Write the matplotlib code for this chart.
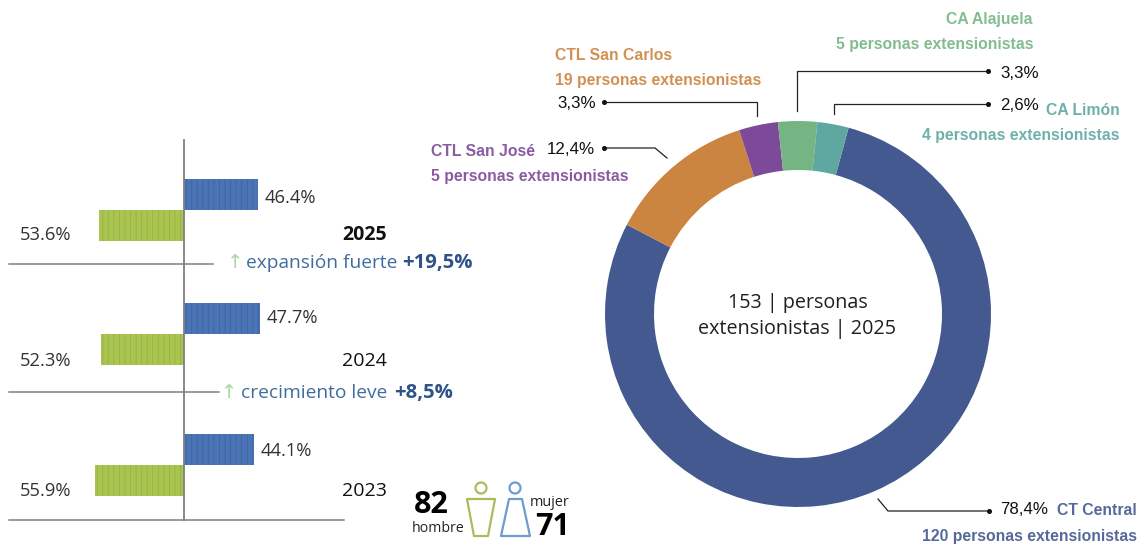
import matplotlib
matplotlib.use("Agg")
import matplotlib.pyplot as plt
from matplotlib.patches import Circle, Polygon

W, H = 1145, 546

# ---- data
years = ["2025", "2024", "2023"]
mujer_pct = [46.4, 47.7, 44.1]
hombre_pct = [53.6, 52.3, 55.9]
growth_text = ["expansión fuerte", "crecimiento leve"]
growth_vals = ["+19,5%", "+8,5%"]
units = ["CT Central", "CTL San José", "CTL San Carlos", "CA Alajuela", "CA Limón"]
persons = [120, 19, 5, 5, 4]
shares = [78.4, 12.4, 3.3, 3.3, 2.6]
total_hombre = 82
total_mujer = 71

# ---- style / layout
BLUE, BLUE_H = "#4A74B6", "#3F659F"
GREEN, GREEN_H = "#A9C44F", "#97B244"
RING = ["#43598F", "#CC8541", "#7C4A98", "#74B583", "#5FA8A2"]
DARK, GREY = "#1F1F1F", "#7F7F7F"
PLEX = "Open Sans"
HELV = "Liberation Sans"
plt.rcParams["hatch.linewidth"] = 0.6

fig = plt.figure(figsize=(W / 100, H / 100), dpi=100, facecolor="white")

# overlay in pixel coordinates
ov = fig.add_axes([0, 0, 1, 1], zorder=3)
ov.set_xlim(0, W); ov.set_ylim(H, 0); ov.axis("off"); ov.patch.set_alpha(0)

# ---- diverging bars
px_per_pct = 1.59
x0 = 184
bar_w = 345
ax = fig.add_axes([0, 0, bar_w / W, 1], zorder=1)
ax.set_xlim(-x0 / px_per_pct, (bar_w - x0) / px_per_pct)
ax.set_ylim(H, 0); ax.axis("off")
centres = [210, 334, 465]
for yc, m, h in zip(centres, mujer_pct, hombre_pct):
    ax.barh(yc - 15.7, m, height=31.5, color=BLUE, edgecolor=BLUE_H, linewidth=0, hatch="|||")
    ax.barh(yc + 15.7, -h, height=31.5, color=GREEN, edgecolor=GREEN_H, linewidth=0, hatch="|||")

ov.plot([184, 184], [140, 520], color=GREY, lw=1.3)
for y, x1 in zip([263.5, 392, 520], [213, 219, 344]):
    ov.plot([9, x1], [y, y], color=GREY, lw=1.1)

t_kw = dict(family=PLEX, fontsize=13.2, color="#333333", va="center")
for yc, m, h, yr, up, dy, b in zip(centres, mujer_pct, hombre_pct, years, [-12, -16, -14], [26, 28, 26], [True, False, False]):
    ov.text(x0 + m * px_per_pct + 7, yc + up, f"{m:.1f}%", **t_kw)
    ov.text(20, yc + dy - 0.5, f"{h:.1f}%", **t_kw)
    ov.text(342, yc + dy - 0.5, yr, family=PLEX, fontsize=14, color="#111111", va="center",
            fontweight="bold" if b else "normal")

# growth notes
for arrow_x, start, y, txt, val, end in zip([235, 229], [246, 241], [263, 393], growth_text, growth_vals, [473, 453]):
    ov.text(arrow_x, y, "↑", family="DejaVu Sans", fontsize=14, color="#A9D6A2", ha="center", va="center")
    ov.text(end, y, val, family=PLEX, fontsize=14.6, fontweight="bold", color="#2F5288", ha="right", va="center")
    ov.text(start, y, txt, family=PLEX, fontsize=13.8, color="#3F6C9E", ha="left", va="center")

# ---- gender counters
ov.text(431, 505, str(total_hombre), family=PLEX, fontsize=22, fontweight="bold", color="black", ha="center", va="center")
ov.text(438, 528, "hombre", family=PLEX, fontsize=10.2, color="#222222", ha="center", va="center")
ov.text(550, 503, "mujer", family=PLEX, fontsize=10.4, color="#222222", ha="center", va="center")
ov.text(553, 527, str(total_mujer), family=PLEX, fontsize=22, fontweight="bold", color="black", ha="center", va="center")
ICON_G, ICON_B = "#A9BC5A", "#6F9BD0"
ov.add_patch(Circle((481, 488), 5.5, fill=False, ec=ICON_G, lw=1.6))
ov.add_patch(Polygon([(467, 499), (495, 499), (488, 536), (474, 536)], closed=True, fill=False,
                     ec=ICON_G, lw=1.6, joinstyle="round"))
ov.add_patch(Circle((515, 488), 5.5, fill=False, ec=ICON_B, lw=1.6))
ov.add_patch(Polygon([(509, 499), (522, 499), (530, 536), (501, 536)], closed=True, fill=False,
                     ec=ICON_B, lw=1.6, joinstyle="round"))

# ---- donut
cx, cy, R, r_in = 798, 314, 193, 144
box = 2 * R + 10
pie_ax = fig.add_axes([(cx - box / 2) / W, 1 - (cy + box / 2) / H, box / W, box / H], zorder=2)
pie_ax.pie(persons, colors=RING, startangle=74.8, counterclock=False, radius=1,
           wedgeprops=dict(width=(R - r_in) / R, linewidth=0))
pie_ax.set_xlim(-box / 2 / R, box / 2 / R); pie_ax.set_ylim(-box / 2 / R, box / 2 / R)
pie_ax.set_aspect("equal"); pie_ax.axis("off")

ov.text(798, 303, "153 | personas", family=PLEX, fontsize=14.2, color=DARK, ha="center", va="center")
ov.text(797, 329, "extensionistas | 2025", family=PLEX, fontsize=14.2, color=DARK, ha="center", va="center")

# ---- leaders
def leader(pts):
    xs, ys = zip(*pts)
    ov.plot(xs, ys, color="#222222", lw=0.9, solid_joinstyle="miter")
    ov.plot([xs[0]], [ys[0]], "o", color="#111111", ms=2.6)

leader([(604, 148), (655, 148), (667, 158)])
leader([(604, 102), (757, 102), (757, 116)])
leader([(988, 71), (797, 71), (797, 111)])
leader([(988, 104), (834, 104), (834, 114)])
leader([(989, 511), (888, 511), (878, 499)])

# ---- donut labels
pct = [f"{v:.1f}".replace(".", ",") + "%" for v in shares]
def lab(x, y, s, c, ha="left", fs=11.3):
    ov.text(x, y + 1.5, s, family=HELV, fontsize=fs, color=c, ha=ha, va="center", fontweight="bold", alpha=0.9)

def num(x, y, s):
    ov.text(x, y + 1, s, family=HELV, fontsize=12.2, color="#111111", ha="left", va="center")

lab(1137, 509, units[0], RING[0], "right")
lab(1137, 535, f"{persons[0]} personas extensionistas", RING[0], "right")
num(1000, 509, pct[0])
lab(431, 150, units[1], RING[2])
lab(431, 175, f"{persons[2]} personas extensionistas", RING[2])
num(547, 149, pct[1])
lab(555, 54, units[2], RING[1])
lab(555, 79, f"{persons[1]} personas extensionistas", RING[1])
num(557, 103, pct[2])
lab(1033, 18, units[3], RING[3], "right")
lab(1033, 43, f"{persons[3]} personas extensionistas", RING[3], "right")
num(1000, 72, pct[3])
lab(1120, 109, units[4], RING[4], "right")
lab(1120, 134, f"{persons[4]} personas extensionistas", RING[4], "right")
num(1000, 105, pct[4])

fig.savefig("out.png", dpi=100, facecolor="white")
